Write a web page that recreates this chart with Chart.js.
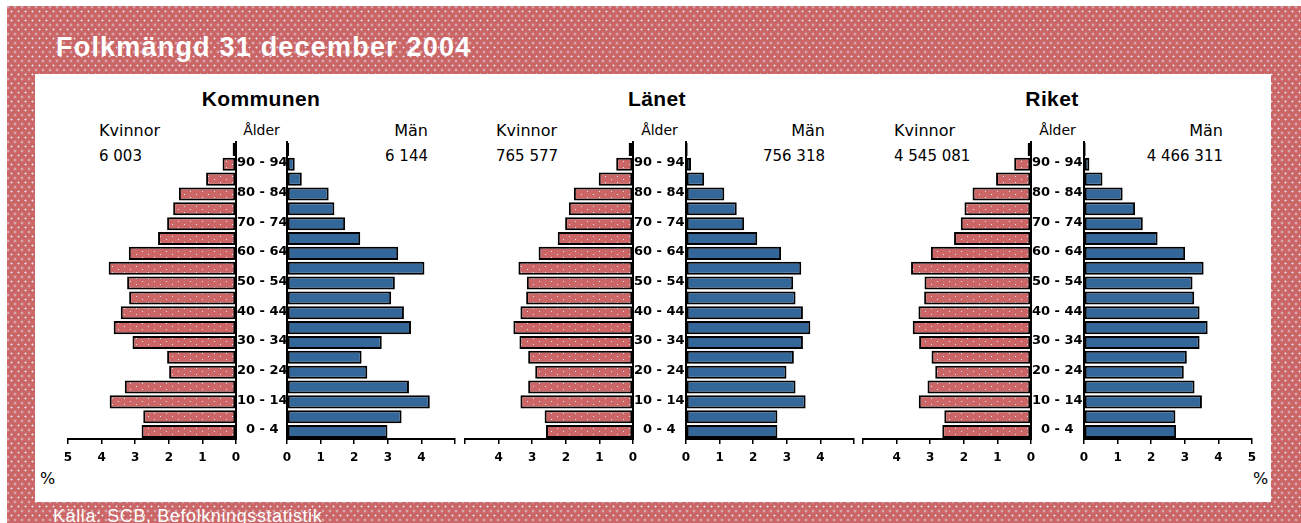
<!DOCTYPE html>
<html><head><meta charset="utf-8">
<script src="https://cdn.jsdelivr.net/npm/chart.js@4.4.1/dist/chart.umd.min.js"></script>
<style>
html,body{margin:0;padding:0;background:#fff;}
body{width:1301px;height:523px;overflow:hidden;position:relative;}
#frame{position:absolute;left:7px;top:6px;width:1294px;height:517px;background-color:#cc6666;
 background-image:radial-gradient(circle,#dfe4f4 0 0.8px,transparent 1.2px),radial-gradient(circle,#dfe4f4 0 0.8px,transparent 1.2px);
 background-size:7px 9px,7px 9px;background-position:1px 1px,4.5px 5.5px;}
#panel{position:absolute;left:35px;top:74px;width:1236px;height:428px;background:#fff;}
.t{position:absolute;white-space:nowrap;line-height:1;color:#000;}
canvas{position:absolute;}
</style></head><body>
<div id="frame"></div><div id="panel"></div>
<script>
// ---- data ----
const ages = ['0 - 4','5 - 9','10 - 14','15 - 19','20 - 24','25 - 29','30 - 34','35 - 39','40 - 44','45 - 49',
              '50 - 54','55 - 59','60 - 64','65 - 69','70 - 74','75 - 79','80 - 84','85 - 89','90 - 94','95 -'];
const xTickValues = [0,1,2,3,4,5];
const regions = ['Kommunen','Länet','Riket'];
const totalKvinnor = ['6 003','765 577','4 545 081'];
const totalMan = ['6 144','756 318','4 466 311'];
const kommunenKvinnor = [2.81,2.76,3.76,3.31,1.99,2.05,3.08,3.64,3.43,3.18,3.24,3.79,3.19,2.32,2.05,1.87,1.70,0.89,0.40,0.10];
const kommunenMan     = [2.99,3.41,4.25,3.63,2.39,2.22,2.82,3.69,3.48,3.10,3.21,4.09,3.31,2.18,1.73,1.41,1.24,0.44,0.23,0.06];
const lanetKvinnor    = [2.59,2.63,3.35,3.12,2.91,3.12,3.38,3.56,3.35,3.18,3.16,3.41,2.81,2.24,2.02,1.91,1.76,1.02,0.50,0.13];
const lanetMan        = [2.72,2.72,3.56,3.26,2.99,3.21,3.48,3.70,3.48,3.26,3.19,3.43,2.83,2.12,1.73,1.51,1.14,0.54,0.15,0.05];
const riketKvinnor    = [2.64,2.58,3.34,3.08,2.85,2.96,3.33,3.52,3.35,3.18,3.17,3.57,2.98,2.29,2.09,1.98,1.74,1.04,0.50,0.10];
const riketMan        = [2.74,2.72,3.51,3.29,2.97,3.06,3.44,3.68,3.44,3.28,3.23,3.56,3.01,2.19,1.75,1.52,1.15,0.55,0.16,0.05];
const kvinnorSeries = [kommunenKvinnor, lanetKvinnor, riketKvinnor];
const manSeries = [kommunenMan, lanetMan, riketMan];

// ---- layout ----
const W = 1301;
const geo = [{L1:236,gap:51,cx:261},{L1:633,gap:53,cx:657},{L1:1031,gap:53,cx:1052}];
const SPAN = 168, PAD = 12, TOP = 130, H = 345, XAXIS_H = 36;
const showFive = [[true,false],[false,false],[false,true]];

function addText(txt, o){
  const d = document.createElement('div');
  d.className = 't';
  d.textContent = txt;
  d.style.fontSize = o.size + 'px';
  d.style.fontFamily = o.family || '"DejaVu Sans"';
  d.style.fontWeight = o.weight || 'normal';
  if (o.color) d.style.color = o.color;
  if (o.ls) d.style.letterSpacing = o.ls + 'px';
  d.style.top = (o.baseline - 0.846 * o.size) + 'px';
  if (o.align === 'right') d.style.right = (W - o.x) + 'px';
  else if (o.align === 'center') { d.style.left = o.x + 'px'; d.style.transform = 'translateX(-50%)'; }
  else d.style.left = o.x + 'px';
  document.body.appendChild(d);
}

addText('Folkmängd 31 december 2004',{x:56,baseline:57.3,size:27,family:'"Liberation Sans",Arial',weight:'bold',color:'#fff',ls:1.2});
addText('Källa: SCB, Befolkningsstatistik',{x:53,baseline:522.5,size:18,family:'"Liberation Sans",Arial',color:'#fff',ls:0.6});
addText('%',{x:40,baseline:485,size:16});
addText('%',{x:1253,baseline:485,size:16});

function makePattern(base, dot, w, h, dots){
  const c = document.createElement('canvas'); c.width = w; c.height = h;
  const g = c.getContext('2d'); g.fillStyle = base; g.fillRect(0,0,w,h);
  g.fillStyle = dot; dots.forEach(p => g.fillRect(p[0],p[1],1,1));
  return g.createPattern(c,'repeat');
}
const redFill = makePattern('#cc6666','#dde3f5',12,6,[[2,1],[8,4]]);
const blueFill = '#336699';

function makeCanvas(left, width){
  const c = document.createElement('canvas');
  c.width = width; c.height = H;
  c.style.left = left + 'px'; c.style.top = TOP + 'px';
  c.style.width = width + 'px'; c.style.height = H + 'px';
  document.body.appendChild(c);
  return c;
}

const tickFont = {family:'"DejaVu Sans"', weight:'bold', size:12};
const ageFont = {family:'"DejaVu Sans"', weight:'bold', size:13};

function xScale(reverse, show5){
  return {
    type:'linear', min:0, max:5, reverse:reverse,
    afterFit: s => { s.height = XAXIS_H; },
    afterBuildTicks: s => { s.ticks = xTickValues.map(v => ({value:v})); },
    ticks:{font:tickFont, color:'#000', padding:7, maxRotation:0, autoSkip:false,
      callback: v => (v === 5 && !show5) ? '' : String(v)},
    grid:{display:true, drawOnChartArea:false, drawTicks:true, tickLength:5, color:'#000', lineWidth:1.5},
    border:{display:true, color:'#000', width:2}
  };
}

function chartOpts(side, gap, show5){
  const left = side === 'left';
  return {
    indexAxis:'y', responsive:false, animation:false, events:[],
    layout:{padding:{left:PAD, right:left ? 0 : PAD, top:12, bottom:0}},
    plugins:{legend:{display:false}, tooltip:{enabled:false}},
    scales:{
      x: xScale(left, show5),
      y: left ? {
        position:'right', reverse:true,
        afterFit: s => { s.width = gap; },
        grid:{display:false, drawTicks:false},
        border:{display:true, color:'#000', width:2},
        ticks:{autoSkip:false, crossAlign:'center', padding:1, labelOffset:-1.5, font:ageFont, color:'#000',
          callback: function(v, i){ return i % 2 === 0 ? this.getLabelForValue(v) : ''; }}
      } : {
        position:'left', reverse:true,
        afterFit: s => { s.width = 0; },
        grid:{display:false, drawTicks:false},
        border:{display:true, color:'#000', width:2},
        ticks:{display:false}
      }
    }
  };
}

geo.forEach((g, k) => {
  const R0 = g.L1 + g.gap;
  addText(regions[k],{x:g.cx,baseline:106,size:21,family:'"Liberation Sans",Arial',weight:'bold',align:'center',ls:0.4});
  addText('Kvinnor',{x:g.L1-137,baseline:137,size:16});
  addText(totalKvinnor[k],{x:g.L1-137,baseline:161.5,size:15});
  addText('Ålder',{x:g.L1+g.gap/2,baseline:135,size:14,align:'center'});
  addText('Män',{x:g.L1+192,baseline:137,size:16,align:'right'});
  addText(totalMan[k],{x:g.L1+192,baseline:161.5,size:15,align:'right'});

  const cl = makeCanvas(g.L1 - SPAN - PAD, PAD + SPAN + g.gap);
  new Chart(cl, {
    type:'bar',
    data:{labels:ages, datasets:[{label:'Kvinnor', data:kvinnorSeries[k], backgroundColor:redFill,
      borderColor:'#000', borderWidth:2, borderSkipped:false, barPercentage:0.88, categoryPercentage:1}]},
    options: chartOpts('left', g.gap, showFive[k][0])
  });
  const cr = makeCanvas(R0 - PAD, PAD + SPAN + PAD);
  new Chart(cr, {
    type:'bar',
    data:{labels:ages, datasets:[{label:'Män', data:manSeries[k], backgroundColor:blueFill,
      borderColor:'#000', borderWidth:2, borderSkipped:false, barPercentage:0.88, categoryPercentage:1}]},
    options: chartOpts('right', 0, showFive[k][1])
  });
});
</script>
</body></html>
